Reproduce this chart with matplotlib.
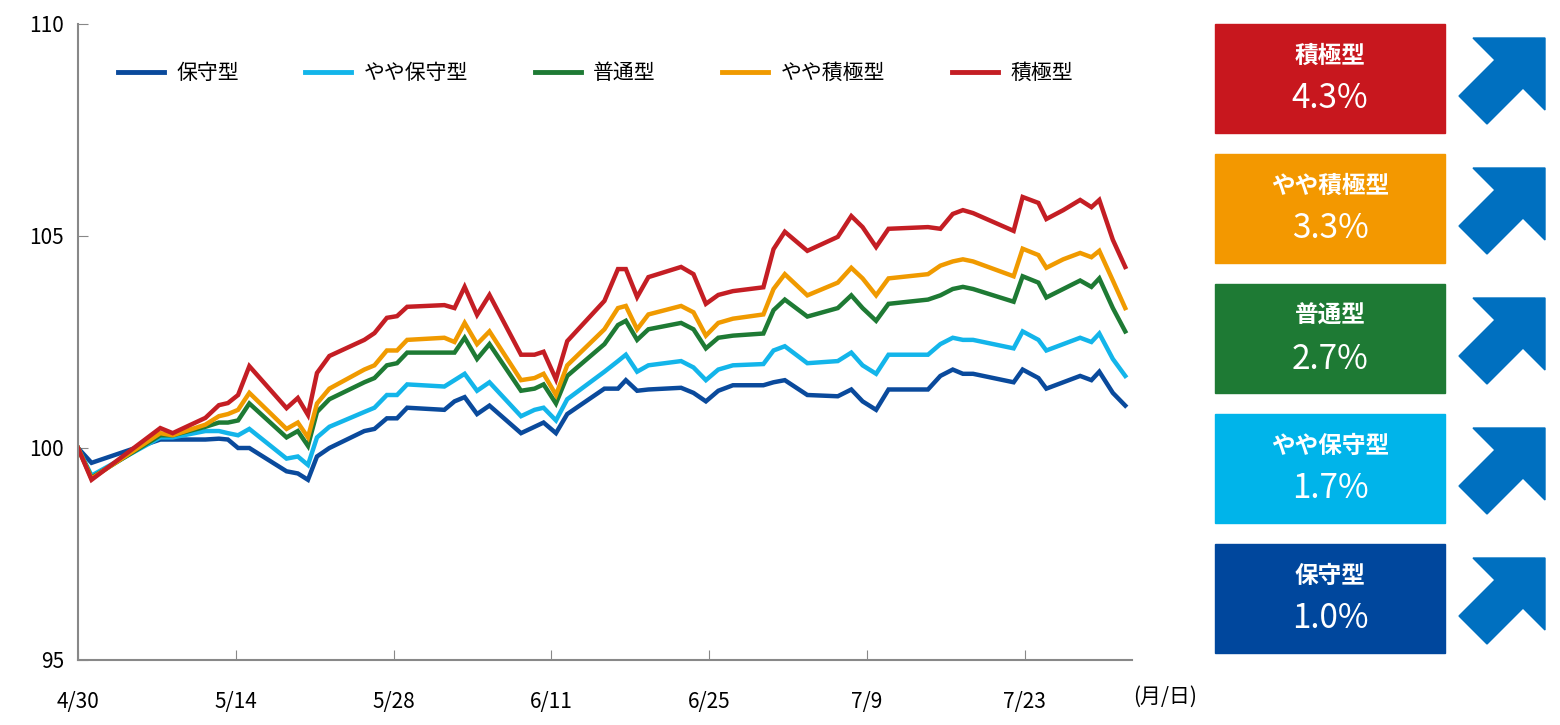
import matplotlib
matplotlib.use("Agg")
import matplotlib.pyplot as plt
import numpy as np
from matplotlib.patches import Rectangle, Polygon

plt.rcParams['font.family'] = ['Noto Sans CJK JP', 'DejaVu Sans']

days = [0,1.2,7.3,8.4,11.3,12.5,13.3,14.2,15.2,18.5,19.5,20.4,21.2,22.3,25.4,26.3,27.4,28.3,29.2,32.5,33.4,34.3,35.4,36.5,39.3,40.5,41.3,42.4,43.4,46.7,47.9,48.6,49.6,50.6,53.5,54.6,55.7,56.8,58.1,60.8,61.7,62.7,64.7,67.4,68.6,69.6,70.8,71.9,75.4,76.5,77.6,78.5,79.4,83.0,83.8,85.2,85.9,87.4,88.9,89.9,90.6,91.8,92.9]
hoshu = [100,99.65,100.2,100.2,100.2,100.22,100.2,100.0,100.0,99.45,99.4,99.25,99.8,100.0,100.4,100.45,100.7,100.7,100.95,100.9,101.1,101.2,100.8,101.0,100.35,100.5,100.6,100.35,100.8,101.4,101.4,101.6,101.35,101.38,101.42,101.3,101.1,101.35,101.48,101.48,101.55,101.6,101.25,101.22,101.38,101.1,100.9,101.38,101.38,101.7,101.85,101.75,101.75,101.55,101.85,101.65,101.4,101.55,101.7,101.6,101.8,101.3,101.0]
yaya_hoshu = [100,99.35,100.25,100.25,100.4,100.4,100.35,100.3,100.45,99.75,99.8,99.6,100.25,100.5,100.85,100.95,101.25,101.25,101.5,101.45,101.6,101.75,101.35,101.55,100.75,100.9,100.95,100.65,101.15,101.8,102.05,102.2,101.8,101.95,102.05,101.9,101.6,101.85,101.95,101.98,102.3,102.4,102.0,102.05,102.25,101.95,101.75,102.2,102.2,102.45,102.6,102.55,102.55,102.35,102.75,102.55,102.3,102.45,102.6,102.5,102.7,102.1,101.7]
futsu = [100,99.3,100.3,100.3,100.5,100.6,100.6,100.65,101.05,100.25,100.4,100.05,100.85,101.15,101.55,101.65,101.95,102.0,102.25,102.25,102.25,102.6,102.1,102.45,101.35,101.4,101.5,101.05,101.7,102.45,102.9,103.0,102.55,102.8,102.95,102.8,102.35,102.6,102.65,102.7,103.25,103.5,103.1,103.3,103.6,103.3,103.0,103.4,103.5,103.6,103.75,103.8,103.75,103.45,104.05,103.9,103.55,103.75,103.95,103.8,104.0,103.3,102.75]
yaya_sekkyoku = [100,99.28,100.35,100.3,100.55,100.75,100.8,100.9,101.3,100.45,100.6,100.25,101.05,101.4,101.85,101.95,102.3,102.3,102.55,102.6,102.5,102.95,102.45,102.75,101.6,101.65,101.75,101.25,101.95,102.8,103.3,103.35,102.8,103.15,103.35,103.2,102.65,102.95,103.05,103.15,103.75,104.1,103.6,103.9,104.25,104.0,103.6,104.0,104.1,104.3,104.4,104.45,104.4,104.05,104.7,104.55,104.25,104.45,104.6,104.5,104.65,103.95,103.3]
sekkyoku = [100,99.25,100.47,100.35,100.71,101.01,101.06,101.25,101.93,100.94,101.18,100.78,101.77,102.17,102.55,102.71,103.07,103.11,103.33,103.37,103.30,103.80,103.14,103.61,102.20,102.20,102.27,101.62,102.52,103.47,104.22,104.22,103.56,104.03,104.27,104.10,103.40,103.61,103.70,103.79,104.69,105.10,104.65,104.98,105.47,105.21,104.74,105.17,105.21,105.17,105.52,105.61,105.54,105.12,105.92,105.78,105.40,105.61,105.85,105.68,105.85,104.91,104.27]

names = ['保守型', 'やや保守型', '普通型', 'やや積極型', '積極型']
colors = ['#0a4a9c', '#13b5ea', '#1e7a34', '#f09a00', '#c41e24']
series = [hoshu, yaya_hoshu, futsu, yaya_sekkyoku, sekkyoku]
returns = ['1.0%', '1.7%', '2.7%', '3.3%', '4.3%']
box_colors = ['#00479d', '#00b4ea', '#1e7a34', '#f39800', '#c8171e']

tick_days = [0, 14, 28, 42, 56, 70, 84]
tick_labels = ['4/30', '5/14', '5/28', '6/11', '6/25', '7/9', '7/23']

W, H = 1560, 725
fig = plt.figure(figsize=(15.6, 7.25), dpi=100)
ax = fig.add_axes([78/W, 1-660/H, (1132-78)/W, (660-24)/H])
for s, n, c in zip(series, names, colors):
    ax.plot(days, s, color=c, lw=3.2, label=n, solid_joinstyle='miter')
ax.set_xlim(0, 93.5)
ax.set_ylim(95, 110)
ax.set_yticks([95, 100, 105, 110])
ax.set_xticks(tick_days)
ax.set_xticklabels(tick_labels)
ax.tick_params(axis='y', direction='in', length=7, color='#888888', labelsize=15, pad=10)
ax.tick_params(axis='x', direction='in', length=7, color='#888888', labelsize=15, pad=22)
for sp in ['top', 'right']:
    ax.spines[sp].set_visible(False)
for sp in ['left', 'bottom']:
    ax.spines[sp].set_color('#888888')
    ax.spines[sp].set_linewidth(1.5)
leg = ax.legend(loc='upper left', bbox_to_anchor=(0.02, 0.97), ncol=5, frameon=False,
                fontsize=15, handlelength=2.2, columnspacing=3.2, handletextpad=0.6)
for l in leg.get_lines():
    l.set_linewidth(3.5)
fig.text(1165/W, 1-697/H, '(月/日)', fontsize=15, ha='center', va='center')

# right panel
tops = [544, 414, 284, 154, 24]
for i in range(5):
    t = tops[i]
    fig.patches.append(Rectangle((1215/W, 1-(t+109)/H), 230/W, 109/H,
                                 transform=fig.transFigure, color=box_colors[i]))
    fig.text(1330/W, 1-(t+32)/H, names[i], fontsize=17, color='white', ha='center', va='center', fontweight='bold')
    fig.text(1330/W, 1-(t+75)/H, returns[i], fontsize=24, color='white', ha='center', va='center')
    # arrow pointing up-right
    tipx, tipy = 1545, t + 14
    loc = np.array([[0, 0], [-72, 0], [-50, 22], [-86, 58], [-58, 86], [-22, 50], [0, 72]])
    pts = [((tipx + x) / W, 1 - (tipy + y) / H) for x, y in loc]
    fig.patches.append(Polygon(pts, closed=True, transform=fig.transFigure, color='#0070c0'))

fig.savefig('out.png', dpi=100)
